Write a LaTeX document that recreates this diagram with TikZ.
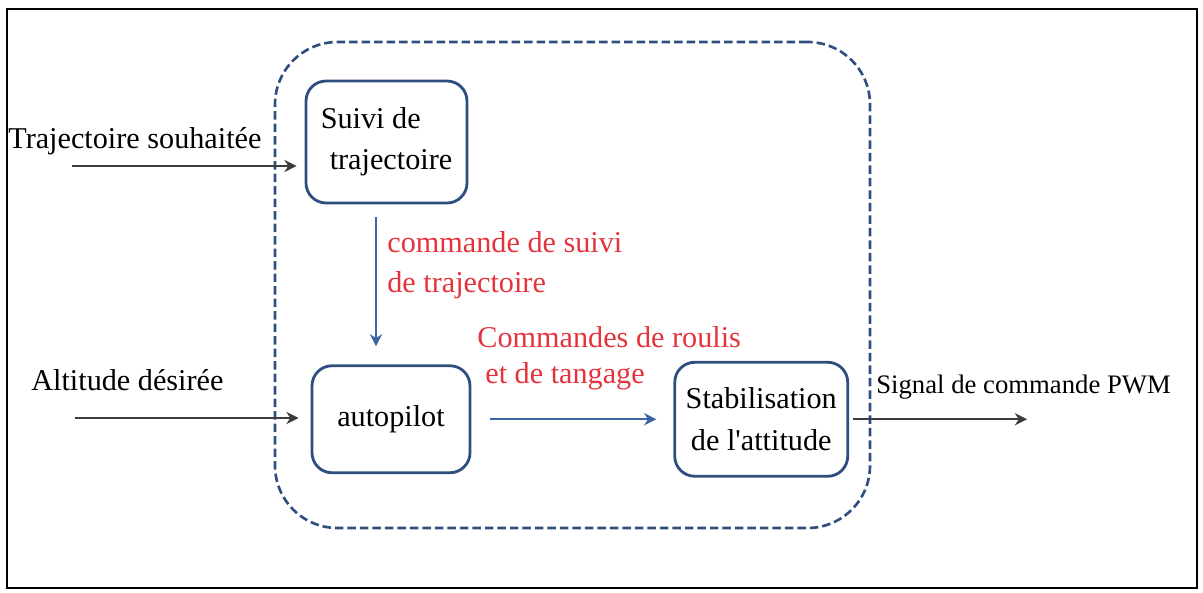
\documentclass[tikz,border=0pt]{standalone}
\usepackage{fontspec}
\setmainfont{Liberation Serif}
\usepackage{xcolor}
\usepackage{tikz}
\usetikzlibrary{arrows.meta,positioning,fit}
\definecolor{BoxBlue}{HTML}{2F4E80}
\definecolor{LineBlue}{HTML}{3B66A3}
\definecolor{CmdRed}{HTML}{E5333D}
\definecolor{InkGray}{HTML}{3C3C3C}

\begin{document}
\begin{tikzpicture}[x=0.02cm,y=-0.02cm,font=\fontsize{17.2}{23.5}\selectfont]
  \tikzstyle{blk}=[draw=BoxBlue,line width=1.6pt,rounded corners=0.4cm,align=center,inner sep=0pt]
  \tikzstyle{arr}=[draw=InkGray,line width=1.3pt,-{Stealth[length=7pt,width=7pt]}]
  \tikzstyle{barr}=[draw=LineBlue,line width=1.3pt,-{Stealth[length=7pt,width=7pt]}]
  \tikzstyle{cmd}=[text=CmdRed,align=left,inner sep=0pt,anchor=north west]
  \useasboundingbox (0,0) rectangle (1203,592);
  \draw[line width=0.9pt] (7,9) rectangle (1197,588);
  % controller boundary
  \node[draw=BoxBlue,line width=1.5pt,dash pattern=on 0.17cm off 0.08cm,rounded corners=1.25cm,inner sep=0pt,fit={(275,42) (870,528)}] (ctrl) {};
  % blocks
  \node[blk,minimum width=3.22cm,minimum height=2.44cm,align=left] (suivi) at (386.5,142) {Suivi de\\\hspace{0.18cm}trajectoire};
  \node[blk,minimum width=3.16cm,minimum height=2.14cm,below=3.2cm of suivi,xshift=0.09cm] (auto) {autopilot};
  \node[blk,minimum width=3.46cm,minimum height=2.28cm,right=4.04cm of auto] (stab) {Stabilisation\\de l\textquotesingle attitude};
  % inputs and output
  \node[anchor=base west,inner sep=0pt] (trajIn) at (8,148) {Trajectoire souhaitée};
  \node[anchor=base west,inner sep=0pt] (altIn) at (31,390) {Altitude désirée};
  \node[anchor=base west,inner sep=0pt,font=\fontsize{15.2}{18}\selectfont] (pwm) at (876,393) {Signal de commande PWM};
  \coordinate (c1) at (72,166);
  \coordinate (c2) at (75,418);
  \coordinate[right=3.56cm of stab.east] (c3);
  \draw[arr,shorten >=0.16cm] (c1) -- (c1 -| suivi.west);
  \draw[arr,shorten >=0.24cm] (c2) -- (c2 -| auto.west);
  \draw[arr,shorten <=0.08cm] (stab.east) -- (c3);
  % internal commands
  \draw[barr,shorten <=0.26cm,shorten >=0.36cm] ([xshift=-0.21cm]suivi.south) -- ([xshift=-0.21cm]suivi.south |- auto.north);
  \draw[barr,shorten <=0.38cm,shorten >=0.34cm] (auto.east) -- (stab.west);
  \node[cmd,font=\fontsize{17.2}{22.7}\selectfont] (cmd1) at (387,231) {commande de suivi\\de trajectoire};
  \node[cmd,font=\fontsize{17.2}{20.6}\selectfont] (cmd2) at (477,326) {Commandes de roulis\\\hspace{0.16cm}et de tangage};
\end{tikzpicture}
\end{document}
